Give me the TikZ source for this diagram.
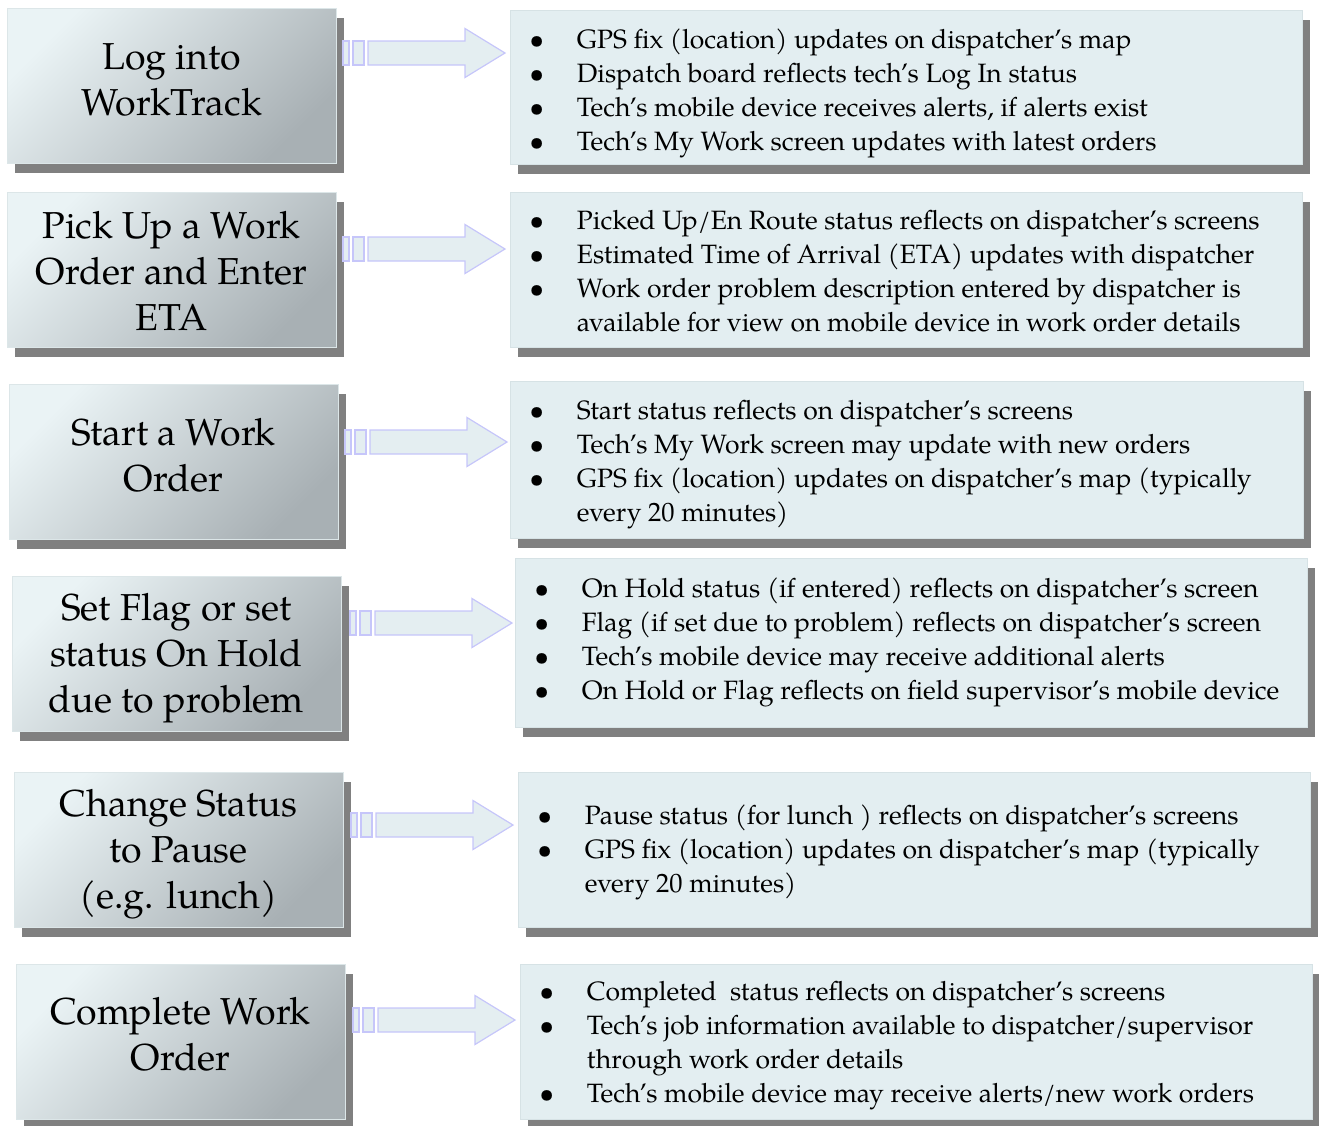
\documentclass[tikz,border=0pt]{standalone}
\usepackage{fontspec}
\setmainfont{TeX Gyre Pagella}
\usetikzlibrary{shadows}
\definecolor{lboxlight}{HTML}{EAF3F5}
\definecolor{lboxdark}{HTML}{A8B0B4}
\definecolor{lboxedge}{HTML}{DCE6E8}
\definecolor{rboxfill}{HTML}{E3EEF1}
\definecolor{rboxedge}{HTML}{D6E2E5}
\definecolor{shadowgray}{HTML}{808080}
\definecolor{arrowfill}{HTML}{E4EEF1}
\definecolor{arrowedge}{HTML}{C6C6FA}
\tikzset{
  boxshadow/.style={drop shadow={shadow xshift=8pt,shadow yshift=-10pt,fill=shadowgray,opacity=1}},
  stepbox/.style={boxshadow, draw=lboxedge, line width=0.8pt,
    top color=lboxlight, bottom color=lboxdark, shading angle=45,
    minimum width=329pt, minimum height=155pt, inner sep=0pt},
  steptext/.style={inner sep=0pt, align=center, font=\fontsize{37.5}{46}\selectfont},
  infobox/.style={boxshadow, draw=rboxedge, line width=0.6pt, fill=rboxfill,
    minimum width=792pt, minimum height=155pt, inner sep=0pt},
  infotext/.style={anchor=west, xshift=23pt, inner sep=0pt, align=left,
    font=\fontsize{26.5}{34}\selectfont},
  arrowstyle/.style={draw=arrowedge, line width=1.2pt, fill=arrowfill}
}
\newcommand{\bl}{\makebox[8pt][c]{•}\hspace*{36pt}}
\newcommand{\cl}{\hspace*{44pt}}
\newcommand{\flowarrow}[2]{%
  \begin{scope}[shift={(#1,#2)}]
    \draw[arrowstyle] (0,-12) rectangle (6,12);
    \draw[arrowstyle] (10,-12) rectangle (21,12);
    \draw[arrowstyle] (25,-12) -- (122,-12) -- (122,-24.5) -- (162,0)
      -- (122,24.5) -- (122,12) -- (25,12) -- cycle;
  \end{scope}}
\begin{document}
\begin{tikzpicture}[x=1pt,y=-1pt]
\useasboundingbox (0,0) rectangle (1319,1125);
% row 1
\node[stepbox] (l1) at (171.5,85.5) {};
\node[steptext, yshift=6pt] (s1) at (l1) {Log into\\WorkTrack};
\node[infobox, minimum height=154pt] (r1) at (906,87) {};
\node[infotext, yshift=-6pt] (t1) at (r1.west) {\bl GPS fix (location) updates on dispatcher’s map\\
\bl Dispatch board reflects tech’s Log In status\\
\bl Tech’s mobile device receives alerts, if alerts exist\\
\bl Tech’s My Work screen updates with latest orders};
\flowarrow{343}{53}
% row 2
\node[stepbox] (l2) at (171.5,269.5) {};
\node[steptext, yshift=-1pt] (s2) at (l2) {Pick Up a Work\\Order and Enter\\ETA};
\node[infobox] (r2) at (906,269.5) {};
\node[infotext, yshift=-1.5pt] (t2) at (r2.west) {\bl Picked Up/En Route status reflects on dispatcher’s screens\\
\bl Estimated Time of Arrival (ETA) updates with dispatcher\\
\bl Work order problem description entered by dispatcher is\\
\cl available for view on mobile device in work order details};
\flowarrow{343}{249}
% row 3
\node[stepbox] (l3) at (173.5,461.5) {};
\node[steptext, yshift=6pt] (s3) at (l3) {Start a Work\\Order};
\node[infobox, minimum width=793pt, minimum height=157pt] (r3) at (906.5,459.5) {};
\node[infotext, yshift=-5pt] (t3) at (r3.west) {\bl Start status reflects on dispatcher’s screens\\
\bl Tech’s My Work screen may update with new orders\\
\bl GPS fix (location) updates on dispatcher’s map (typically\\
\cl every 20 minutes)};
\flowarrow{345}{442}
% row 4
\node[stepbox] (l4) at (176.5,653.5) {};
\node[steptext, yshift=-5pt] (s4) at (l4) {Set Flag or set\\status On Hold\\due to problem};
\node[infobox, minimum height=169pt] (r4) at (911,642.5) {};
\node[infotext] (t4) at (r4.west) {\bl On Hold status (if entered) reflects on dispatcher’s screen\\
\bl Flag (if set due to problem) reflects on dispatcher’s screen\\
\bl Tech’s mobile device may receive additional alerts\\
\bl On Hold or Flag reflects on field supervisor’s mobile device};
\flowarrow{350}{623}
% row 5
\node[stepbox] (l5) at (178.5,849.5) {};
\node[steptext, yshift=-5pt] (s5) at (l5) {Change Status\\to Pause\\(e.g. lunch)};
\node[infobox] (r5) at (914,849.5) {};
\node[infotext, yshift=-3pt] (t5) at (r5.west) {\bl Pause status (for lunch ) reflects on dispatcher’s screens\\
\bl GPS fix (location) updates on dispatcher’s map (typically\\
\cl every 20 minutes)};
\flowarrow{351}{825}
% row 6
\node[stepbox] (l6) at (180.5,1041.5) {};
\node[steptext, yshift=7pt] (s6) at (l6) {Complete Work\\Order};
\node[infobox] (r6) at (916,1041.5) {};
\node[infotext, yshift=-4.5pt] (t6) at (r6.west) {\bl Completed\ \ status reflects on dispatcher’s screens\\
\bl Tech’s job information available to dispatcher/supervisor\\
\cl through work order details\\
\bl Tech’s mobile device may receive alerts/new work orders};
\flowarrow{353}{1020}
\end{tikzpicture}
\end{document}
